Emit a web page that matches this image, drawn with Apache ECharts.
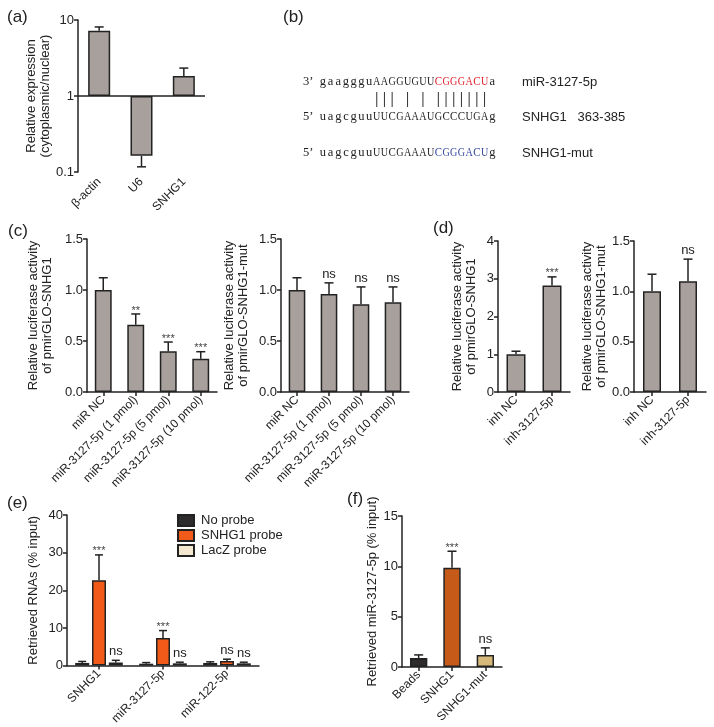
<!DOCTYPE html>
<html><head><meta charset="utf-8">
<script src="https://cdn.jsdelivr.net/npm/echarts@6/dist/echarts.min.js"></script>
<style>html,body{margin:0;padding:0;background:#fff}#c{width:714px;height:727px}</style>
</head><body><div id="c"></div>
<script>
// ---------------- data ----------------
const aCategories = ['β-actin', 'U6', 'SNHG1'];
const aValues = [7.2, 0.163, 1.83];
const aErrors = [0.9, 0.046, 0.5];
const aYRange = [0.1, 10];

const cCategories = ['miR NC', 'miR-3127-5p (1 pmol)', 'miR-3127-5p (5 pmol)', 'miR-3127-5p (10 pmol)'];
const cLeftValues = [1.0, 0.66, 0.40, 0.325];
const cLeftErrors = [0.12, 0.105, 0.09, 0.07];
const cLeftSig = ['', '**', '***', '***'];
const cRightValues = [1.0, 0.96, 0.86, 0.88];
const cRightErrors = [0.12, 0.11, 0.17, 0.15];
const cRightSig = ['', 'ns', 'ns', 'ns'];
const cYTicks = [0, 1.5, 0.5];

const dCategories = ['inh NC', 'inh-3127-5p'];
const dLeftValues = [1.0, 2.82];
const dLeftErrors = [0.08, 0.23];
const dLeftSig = ['', '***'];
const dLeftYTicks = [0, 4, 1];
const dRightValues = [1.0, 1.1];
const dRightErrors = [0.17, 0.22];
const dRightSig = ['', 'ns'];
const dRightYTicks = [0, 1.5, 0.5];

const eCategories = ['SNHG1', 'miR-3127-5p', 'miR-122-5p'];
const eSeriesNames = ['No probe', 'SNHG1 probe', 'LacZ probe'];
const eNoProbe = [0.7, 0.5, 0.7];
const eNoProbeErr = [0.4, 0.3, 0.3];
const eNoProbeSig = ['', '', ''];
const eSnhg1Probe = [22.7, 7.3, 1.2];
const eSnhg1ProbeErr = [6.7, 2.0, 0.5];
const eSnhg1ProbeSig = ['***', '***', 'ns'];
const eLacZProbe = [0.8, 0.6, 0.6];
const eLacZProbeErr = [0.6, 0.3, 0.3];
const eLacZProbeSig = ['ns', 'ns', 'ns'];
const eYTicks = [0, 40, 10];

const fCategories = ['Beads', 'SNHG1', 'SNHG1-mut'];
const fValues = [0.9, 9.85, 1.2];
const fErrors = [0.3, 1.65, 0.7];
const fSig = ['', '***', 'ns'];
const fYTicks = [0, 15, 5];

// panel (b) sequences: prefix + segments [text, colour key]
const seqPrefixes = ['3’', '5’', '5’'];
const seqLine1 = [['gaaggguAAGGUGUU', 'k'], ['CGGGACU', 'r'], ['a', 'k']];
const seqLine2 = [['uagcguuUUCGAAAUGCCCUGAg', 'k']];
const seqLine3 = [['uagcguuUUCGAAAU', 'k'], ['CGGGACU', 'b'], ['g', 'k']];
const seqSideLabels = ['miR-3127-5p', 'SNHG1   363-385', 'SNHG1-mut'];
const pairedIdx = [7, 8, 9, 11, 13, 15, 16, 17, 18, 19, 20, 21];

// ---------------- styles ----------------
const SANS = '"Liberation Sans", Arial, sans-serif';
const SERIF = '"Liberation Serif", "Times New Roman", serif';
const INK = '#222';
const GRAY = '#a8a09c';
const E_COLORS = ['#2d2b2b', '#f25a1a', '#f4e7cf'];
const F_COLORS = ['#2d2b2b', '#c65a18', '#d6b87a'];
const SEQ_COLORS = { k: INK, r: '#e3202a', b: '#3347a0' };

const grids = [
  { left: 78, top: 20, width: 127, height: 152 },   // 0 a
  { left: 87, top: 239, width: 130, height: 153 },  // 1 c-left
  { left: 281, top: 239, width: 128, height: 153 }, // 2 c-right
  { left: 498, top: 241, width: 72, height: 151 },  // 3 d-left
  { left: 634, top: 241, width: 72, height: 151 },  // 4 d-right
  { left: 67, top: 515, width: 192, height: 152 },  // 5 e
  { left: 402, top: 516, width: 100, height: 151 }  // 6 f
];

function xAxis(gi, cats, opts) {
  opts = opts || {};
  return {
    type: 'category', gridIndex: gi, data: cats,
    axisLine: { show: opts.noLine ? false : true, onZero: false, lineStyle: { color: INK, width: 1.5 } },
    axisTick: { show: !opts.noTick, alignWithLabel: true, length: 4, lineStyle: { color: INK, width: 1.5 } },
    axisLabel: { rotate: 45, fontSize: 12, color: INK, fontFamily: SANS, margin: opts.margin || 6, interval: 0 }
  };
}
function yAxis(gi, ticks, name, nameGap, fmt) {
  return {
    type: 'value', gridIndex: gi, min: ticks[0], max: ticks[1], interval: ticks[2],
    name: name, nameLocation: 'middle', nameGap: nameGap, nameRotate: 90,
    nameTextStyle: { fontSize: 13, color: INK, fontFamily: SANS, lineHeight: 14 },
    axisLine: { show: true, lineStyle: { color: INK, width: 1.5 } },
    axisTick: { show: true, length: 4, lineStyle: { color: INK, width: 1.5 } },
    splitLine: { show: false },
    axisLabel: { fontSize: 13, color: INK, fontFamily: SANS, margin: 4, formatter: fmt }
  };
}
const fmt1 = v => v.toFixed(1);
const fmt0 = v => String(v);

function barSeries(gi, values, color, name, extra) {
  return Object.assign({
    type: 'bar', name: name, xAxisIndex: gi, yAxisIndex: gi, data: values,
    barWidth: '52%',
    itemStyle: { color: color, borderColor: INK, borderWidth: 1.5 },
    emphasis: { disabled: true }, animation: false, z: 2
  }, extra || {});
}
function errSeries(gi, values, errors, sig, opts) {
  opts = opts || {};
  return {
    type: 'custom', xAxisIndex: gi, yAxisIndex: gi, z: 3, animation: false,
    data: values.map((v, i) => [i, v, errors[i]]),
    encode: { x: 0, y: 1 },
    renderItem(params, api) {
      const i = api.value(0), v = api.value(1), e = api.value(2);
      const s = sig ? (sig[params.dataIndex] || '') : '';
      const down = opts.log && v < 1;
      const base = api.coord([i, v]);
      const end = api.coord([i, down ? v - e : v + e]);
      const x = base[0] + (opts.offset || 0);
      const cap = opts.cap || 4.5;
      const children = [
        { type: 'line', shape: { x1: x, y1: base[1], x2: x, y2: end[1] }, style: { stroke: INK, lineWidth: 1.5 } },
        { type: 'line', shape: { x1: x - cap, y1: end[1], x2: x + cap, y2: end[1] }, style: { stroke: INK, lineWidth: 1.5 } }
      ];
      if (s) {
        const isStar = s.indexOf('*') >= 0;
        children.push({
          type: 'text', x: x, y: end[1] - (isStar ? -2 : 2),
          style: { text: s, align: 'center', verticalAlign: 'bottom', fill: isStar ? '#444' : INK,
                   font: (isStar ? '11px ' : '13px ') + SANS }
        });
      }
      return { type: 'group', children: children };
    }
  };
}

// ---------------- panel (b) sequence decoration (monospaced layout) ----------------
const SEQ_FONT = '12.5px ' + SERIF;
const SEQ_PREFIX_X = 303, SEQ_X0 = 319, SEQ_ADV = 7.7, SEQ_MAXW = 7.3;
const seqRowsY = [82, 117, 153];
const ctx = document.createElement('canvas').getContext('2d');
ctx.font = SEQ_FONT;
function seqChars(line, y) {
  const out = [];
  let idx = 0;
  line.forEach(seg => {
    for (const ch of seg[0]) {
      const w = ctx.measureText(ch).width;
      const sx = w > SEQ_MAXW ? SEQ_MAXW / w : 1;
      out.push({ type: 'text', x: SEQ_X0 + (idx + 0.5) * SEQ_ADV, y: y, scaleX: sx,
        style: { text: ch, font: SEQ_FONT, fill: SEQ_COLORS[seg[1]], align: 'center', verticalAlign: 'middle' } });
      idx++;
    }
  });
  return out;
}
const pairLines = pairedIdx.map(k => {
  const x = SEQ_X0 + (k + 0.5) * SEQ_ADV;
  return { type: 'line', shape: { x1: x, y1: 92, x2: x, y2: 107 }, style: { stroke: '#333', lineWidth: 1 } };
});

function panelLabel(t, x, y) {
  return { type: 'text', x: x, y: y, style: { text: t, font: '17px ' + SANS, fill: INK, verticalAlign: 'middle' } };
}
function sideLabel(t, y) {
  return { type: 'text', x: 522, y: y, style: { text: t, font: '13px ' + SANS, fill: INK, verticalAlign: 'middle' } };
}
function prefixLabel(t, y) {
  return { type: 'text', x: SEQ_PREFIX_X, y: y, style: { text: t, font: SEQ_FONT, fill: INK, verticalAlign: 'middle' } };
}

const graphics = [
  panelLabel('(a)', 7, 17), panelLabel('(b)', 283, 17), panelLabel('(c)', 8, 231),
  panelLabel('(d)', 433, 228), panelLabel('(e)', 7, 503), panelLabel('(f)', 347, 499)
].concat(
  seqPrefixes.map((t, i) => prefixLabel(t, seqRowsY[i])),
  seqChars(seqLine1, seqRowsY[0]), seqChars(seqLine2, seqRowsY[1]), seqChars(seqLine3, seqRowsY[2]),
  seqSideLabels.map((t, i) => sideLabel(t, seqRowsY[i])),
  pairLines
);

// ---------------- option ----------------
const E_BAR_W = 14, E_GAP = 0.2;
const eOffsets = [-1, 0, 1].map(k => k * E_BAR_W * (1 + E_GAP));

const option = {
  backgroundColor: '#fff',
  animation: false,
  textStyle: { fontFamily: SANS },
  grid: grids,
  graphic: graphics,
  legend: {
    data: eSeriesNames, left: 177, top: 514, orient: 'vertical', itemWidth: 16, itemHeight: 11, itemGap: 2,
    padding: 0, icon: 'rect', selectedMode: false,
    textStyle: { fontSize: 13, color: INK, fontFamily: SANS, padding: [0, 0, 0, 2] }
  },
  xAxis: [
    xAxis(0, aCategories, { noLine: true, noTick: true, margin: 8 }),
    xAxis(1, cCategories), xAxis(2, cCategories),
    xAxis(3, dCategories), xAxis(4, dCategories),
    xAxis(5, eCategories), xAxis(6, fCategories)
  ],
  yAxis: [
    {
      type: 'log', logBase: 10, gridIndex: 0, min: aYRange[0], max: aYRange[1],
      name: 'Relative expression\n(cytoplasmic/nuclear)', nameLocation: 'middle', nameGap: 15, nameRotate: 90,
      nameTextStyle: { fontSize: 13, color: INK, fontFamily: SANS, lineHeight: 14 },
      axisLine: { show: true, lineStyle: { color: INK, width: 1.5 } },
      axisTick: { show: true, length: 4, lineStyle: { color: INK, width: 1.5 } },
      splitLine: { show: false },
      axisLabel: { fontSize: 13, color: INK, fontFamily: SANS, margin: 4, formatter: v => String(+(+v).toPrecision(2)) }
    },
    yAxis(1, cYTicks, 'Relative luciferase activity\nof pmirGLO-SNHG1', 33, fmt1),
    yAxis(2, cYTicks, 'Relative luciferase activity\nof pmirGLO-SNHG1-mut', 31, fmt1),
    yAxis(3, dLeftYTicks, 'Relative luciferase activity\nof pmirGLO-SNHG1', 20, fmt0),
    yAxis(4, dRightYTicks, 'Relative luciferase activity\nof pmirGLO-SNHG1-mut', 25, fmt1),
    yAxis(5, eYTicks, 'Retrieved RNAs (% input)', 27, fmt0),
    yAxis(6, fYTicks, 'Retrieved miR-3127-5p (% input)', 22, fmt0)
  ],
  series: [
    barSeries(0, aValues, GRAY, 'a', {
      markLine: { silent: true, symbol: 'none', animation: false, label: { show: false },
        lineStyle: { color: INK, width: 1.5, type: 'solid' }, data: [{ yAxis: 1 }] }
    }),
    errSeries(0, aValues, aErrors, null, { log: true }),
    barSeries(1, cLeftValues, GRAY, 'cl'), errSeries(1, cLeftValues, cLeftErrors, cLeftSig),
    barSeries(2, cRightValues, GRAY, 'cr'), errSeries(2, cRightValues, cRightErrors, cRightSig),
    barSeries(3, dLeftValues, GRAY, 'dl', { barWidth: 19 }), errSeries(3, dLeftValues, dLeftErrors, dLeftSig),
    barSeries(4, dRightValues, GRAY, 'dr', { barWidth: 18 }), errSeries(4, dRightValues, dRightErrors, dRightSig),
    barSeries(5, eNoProbe, E_COLORS[0], eSeriesNames[0], { barWidth: E_BAR_W, barGap: '20%' }),
    barSeries(5, eSnhg1Probe, E_COLORS[1], eSeriesNames[1], { barWidth: E_BAR_W, barGap: '20%' }),
    barSeries(5, eLacZProbe, E_COLORS[2], eSeriesNames[2], { barWidth: E_BAR_W, barGap: '20%' }),
    errSeries(5, eNoProbe, eNoProbeErr, eNoProbeSig, { offset: eOffsets[0], cap: 4 }),
    errSeries(5, eSnhg1Probe, eSnhg1ProbeErr, eSnhg1ProbeSig, { offset: eOffsets[1], cap: 4 }),
    errSeries(5, eLacZProbe, eLacZProbeErr, eLacZProbeSig, { offset: eOffsets[2], cap: 4 }),
    {
      type: 'bar', xAxisIndex: 6, yAxisIndex: 6, barWidth: '52%', animation: false, z: 2,
      data: fValues.map((v, i) => ({ value: v, itemStyle: { color: F_COLORS[i] } })),
      itemStyle: { borderColor: INK, borderWidth: 1.5 }, emphasis: { disabled: true }
    },
    errSeries(6, fValues, fErrors, fSig)
  ]
};

const chart = echarts.init(document.getElementById('c'), null, { renderer: 'canvas' });
chart.setOption(option);
</script>
</body></html>
